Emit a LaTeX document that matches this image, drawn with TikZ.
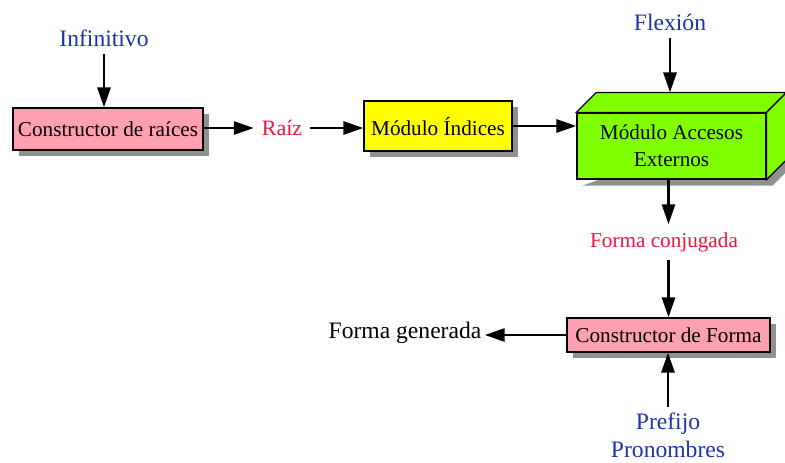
\documentclass[tikz,border=0pt]{standalone}
\usepackage{fontspec}
\setmainfont{Liberation Serif}
\usetikzlibrary{arrows.meta,shadows,calc,backgrounds}

\definecolor{rosa}{RGB}{255,160,176}
\definecolor{amarillo}{RGB}{255,255,0}
\definecolor{verde}{RGB}{128,255,0}
\definecolor{azul}{RGB}{30,50,170}
\definecolor{rojo}{RGB}{240,20,60}

\begin{document}
\begin{tikzpicture}[x=0.5pt,y=-0.5pt,>={Triangle[length=10pt,width=6.5pt]},
    caja/.style={draw,line width=0.6pt,inner sep=0pt,
        drop shadow={shadow xshift=3pt,shadow yshift=-3pt,fill=black!43,opacity=1}},
    entrada/.style={text=azul,font=\fontsize{11.8}{14}\selectfont},
    dato/.style={text=rojo}]
    \useasboundingbox (0,0) rectangle (785,462);
    \begin{scope}[line width=1.4pt,font=\fontsize{10.6}{13.5}\selectfont]

        \node [entrada] (infinitivo) at (104,38) {Infinitivo};
        \node [caja,fill=rosa,minimum width=95pt,minimum height=21pt] (raices) at (108,129) {Constructor de raíces};
        \node [dato,font=\fontsize{11}{13.5}\selectfont] (raiz) at (282,128) {Raíz};
        \node [caja,fill=amarillo,minimum width=74pt,minimum height=25pt] (indices) at (438,126) {Módulo Índices};

        % caja en 3D
        \node [draw,line width=0.6pt,fill=verde,minimum width=94.5pt,minimum height=33pt,align=center] (accesos) at (671.5,146) {Módulo Accesos\\Externos};
        \draw [line width=0.6pt,fill=verde] (accesos.north west) -- ++(20,-20) -- ($(accesos.north east)+(20,-20)$) -- (accesos.north east) -- cycle;
        \draw [line width=0.6pt,fill=verde] (accesos.north east) -- ++(20,-20) -- ($(accesos.south east)+(20,-20)$) -- (accesos.south east) -- cycle;
        \coordinate (accesos-fondo) at ($(accesos.north)+(20,-20)$);
        \begin{scope}[on background layer]
            \fill [black!43] ($(accesos.south west)+(6,6)$) -- ($(accesos.south east)+(6,6)$) -- ($(accesos.south east)+(26,-14)$)
                -- ($(accesos.north east)+(26,-14)$) -- ($(accesos.north east)+(6,6)$) -- cycle;
        \end{scope}

        \node [entrada] (flexion) at (670,22) {Flexión};
        \node [dato] (conjugada) at (664,242) {Forma conjugada};
        \node [caja,fill=rosa,minimum width=101.5pt,minimum height=17pt] (forma) at (668.5,335) {Constructor de Forma};
        \node [font=\fontsize{11.8}{14}\selectfont,inner xsep=1pt] (generada) at (405,333) {Forma generada};
        \node [entrada,align=center,inner ysep=1pt] (prefijo) at (668,435) {Prefijo\\Pronombres};

        \draw [->] (infinitivo) -- (infinitivo |- raices.north);
        \draw [->] (raices.east |- raiz) -- (raiz);
        \draw [->] (raiz) -- (raiz -| indices.west);
        \draw [->] (indices) -- (indices -| accesos.west);
        \draw [->] (flexion) -- (flexion |- accesos-fondo);
        \draw [->] (accesos.south -| forma.north) -- (conjugada.north -| forma.north);
        \draw [->] (conjugada.south -| forma.north) -- (forma.north);
        \draw [->] (forma) -- (forma -| generada.east);
        \draw [->] ($(prefijo.north)+(0,-2)$) -- (prefijo.north |- forma.south);
    \end{scope}
\end{tikzpicture}
\end{document}
